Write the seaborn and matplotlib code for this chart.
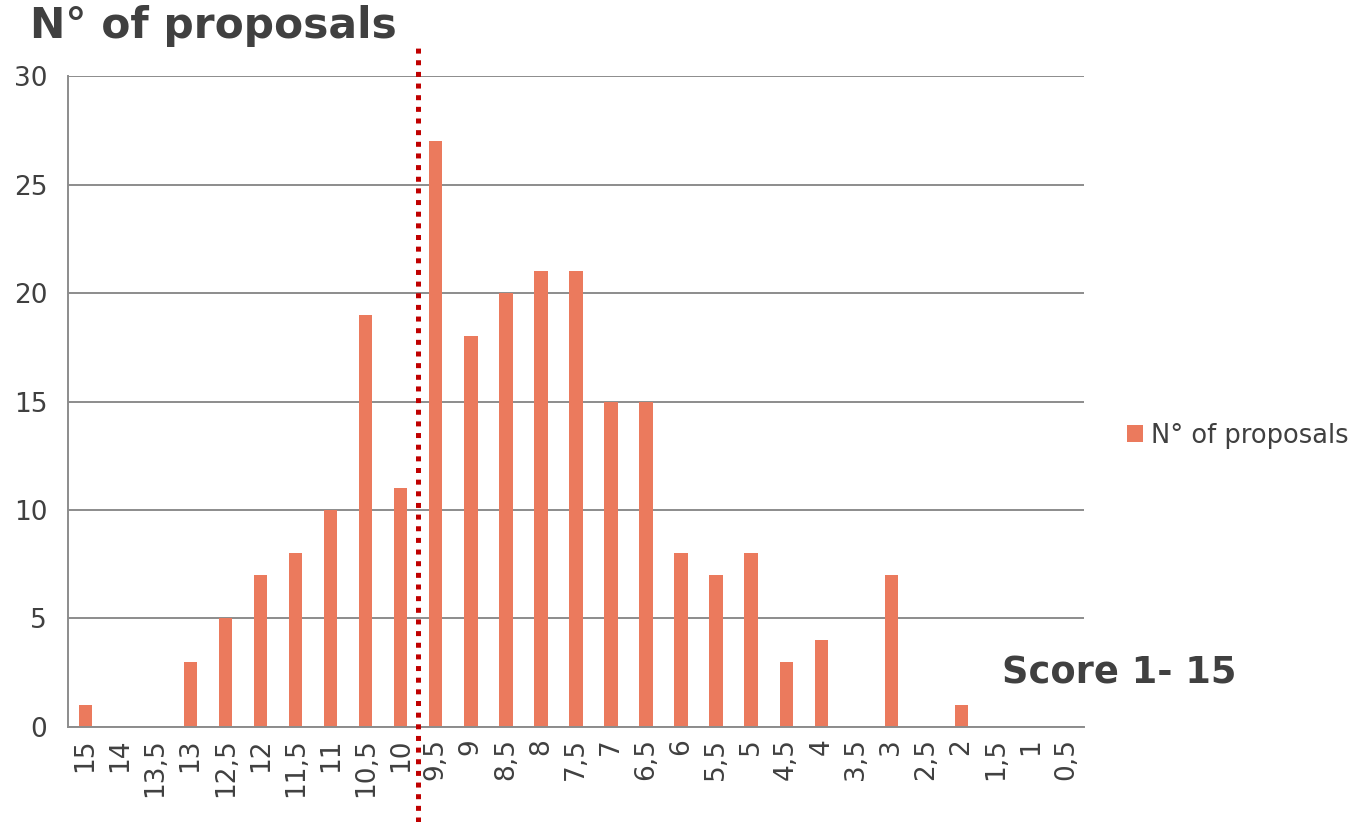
import pandas as pd
import matplotlib
matplotlib.use('Agg')
import matplotlib.pyplot as plt
from matplotlib.patches import Patch
import seaborn as sns

# Datos
puntuaciones = ['15', '14', '13,5', '13', '12,5', '12', '11,5', '11', '10,5', '10',
                '9,5', '9', '8,5', '8', '7,5', '7', '6,5', '6', '5,5', '5',
                '4,5', '4', '3,5', '3', '2,5', '2', '1,5', '1', '0,5']
propuestas = [1, 0, 0, 3, 5, 7, 8, 10, 19, 11,
              27, 18, 20, 21, 21, 15, 15, 8, 7, 8,
              3, 4, 0, 7, 0, 1, 0, 0, 0]
y_ticks = [0, 5, 10, 15, 20, 25, 30]
umbral_idx = 9.5  # línea de corte entre 10 y 9,5

color_barra = '#EB7A5D'
color_texto = '#404040'
color_gris = '#8C8C8C'

df = pd.DataFrame({'puntuacion': puntuaciones, 'propuestas': propuestas})

sns.set_style('white')
plt.rcParams['font.family'] = ['DejaVu Sans']

fig = plt.figure(figsize=(13.65, 8.22), dpi=100)
ax = fig.add_axes([0.0498, 0.1156, 0.7443, 0.7919])

sns.barplot(data=df, x='puntuacion', y='propuestas', order=puntuaciones,
            color=color_barra, width=0.38, saturation=1, linewidth=0,
            edgecolor='none', ax=ax)

ax.set_xlim(-0.5, len(puntuaciones) - 0.5)
ax.set_ylim(0, 30)
ax.set_yticks(y_ticks)
ax.yaxis.grid(True, color=color_gris, linewidth=1.4)
ax.set_axisbelow(True)

# ticks de x en los límites de categoría, etiquetas en el centro
ax.set_xticks([i - 0.5 for i in range(len(puntuaciones) + 1)])
ax.set_xticklabels([])
ax.set_xticks(range(len(puntuaciones)), minor=True)
ax.set_xticklabels(puntuaciones, minor=True, rotation=90, fontsize=19, color=color_texto)
ax.tick_params(axis='x', which='major', length=9, width=1.4, color=color_gris, direction='out')
ax.tick_params(axis='x', which='minor', length=0, pad=8)
ax.tick_params(axis='y', length=9, width=1.4, color=color_gris, labelsize=19,
               labelcolor=color_texto, pad=6)

for lado in ['top', 'right']:
    ax.spines[lado].set_visible(False)
for lado in ['left', 'bottom']:
    ax.spines[lado].set_color(color_gris)
    ax.spines[lado].set_linewidth(1.4)

ax.set_xlabel('')
ax.set_ylabel('')

# línea de corte roja punteada
ax.axvline(umbral_idx, ymin=-0.146, ymax=1.043, clip_on=False, color='#C00000',
           linewidth=3.6, linestyle=(0, (1, 1.33)), dash_capstyle='butt', zorder=5)

fig.text(0.022, 0.968, 'N° of proposals', fontsize=30.5, fontweight='bold',
         color=color_texto, va='center', ha='left')
fig.text(0.734, 0.181, 'Score 1- 15', fontsize=26.5, fontweight='bold',
         color=color_texto, va='center', ha='left')

fig.legend(handles=[Patch(facecolor=color_barra, edgecolor='none', label='N° of proposals')],
           loc='center left', bbox_to_anchor=(0.809, 0.47), frameon=False,
           fontsize=18.5, handlelength=0.6, handleheight=0.6, handletextpad=0.3,
           labelcolor=color_texto)

plt.savefig('out.png', dpi=100)
